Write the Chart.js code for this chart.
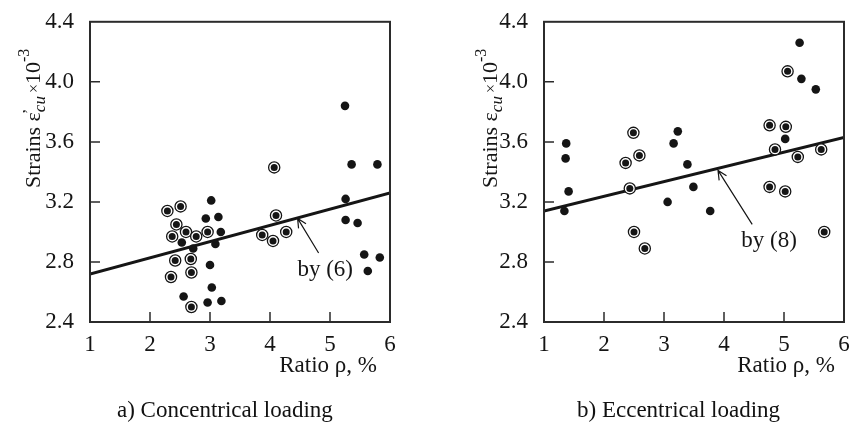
<!DOCTYPE html>
<html>
<head>
<meta charset="utf-8">
<script src="https://cdn.jsdelivr.net/npm/chart.js@4.4.1/dist/chart.umd.min.js"></script>
<style>
  body { margin: 0; background: #fff; width: 851px; height: 423px; overflow: hidden; position: relative; }
  canvas { position: absolute; top: 0; }
  #chartA { left: 0; }
  #chartB { left: 425px; }
  .cap { position: absolute; top: 398px; font: 23px/23px "Liberation Serif", serif; color: #111; white-space: nowrap; }
</style>
</head>
<body>
<canvas id="chartA" width="425" height="423"></canvas>
<canvas id="chartB" width="426" height="423"></canvas>
<div class="cap" style="left:117px">a) Concentrical loading</div>
<div class="cap" style="left:577px">b) Eccentrical loading</div>
<script>
const xTicks = [1, 2, 3, 4, 5, 6];
const yTicks = [2.4, 2.8, 3.2, 3.6, 4.0, 4.4];

// a) concentrical loading
const concSolidX = [5.25, 5.36, 5.79, 5.26, 5.26, 5.46, 5.57, 5.83, 5.63, 3.02, 2.93, 3.14, 3.18, 3.09, 2.53, 2.72, 3.00, 3.03, 2.56, 2.96, 3.19];
const concSolidY = [3.84, 3.45, 3.45, 3.22, 3.08, 3.06, 2.85, 2.83, 2.74, 3.21, 3.09, 3.10, 3.00, 2.92, 2.93, 2.89, 2.78, 2.63, 2.57, 2.53, 2.54];
const concRingX = [4.07, 2.29, 2.51, 2.44, 2.37, 2.60, 2.77, 2.96, 2.42, 2.68, 2.69, 2.35, 2.69, 4.10, 3.87, 4.05, 4.27];
const concRingY = [3.43, 3.14, 3.17, 3.05, 2.97, 3.00, 2.97, 3.00, 2.81, 2.82, 2.73, 2.70, 2.50, 3.11, 2.98, 2.94, 3.00];
const concFitX = [1, 6];
const concFitY = [2.72, 3.26];

// b) eccentrical loading
const eccSolidX = [5.26, 5.29, 5.53, 1.37, 1.36, 1.41, 1.34, 3.23, 3.16, 3.39, 3.49, 3.06, 3.77, 5.02];
const eccSolidY = [4.26, 4.02, 3.95, 3.59, 3.49, 3.27, 3.14, 3.67, 3.59, 3.45, 3.30, 3.20, 3.14, 3.62];
const eccRingX = [5.06, 2.49, 2.36, 2.59, 2.43, 2.50, 2.68, 4.76, 5.03, 4.85, 5.23, 5.62, 4.76, 5.02, 5.67];
const eccRingY = [4.07, 3.66, 3.46, 3.51, 3.29, 3.00, 2.89, 3.71, 3.70, 3.55, 3.50, 3.55, 3.30, 3.27, 3.00];
const eccFitX = [1, 6];
const eccFitY = [3.14, 3.63];

const SERIF = '"Liberation Serif", "Times New Roman", serif';
const INK = "#151515";
Chart.defaults.font.family = SERIF;
Chart.defaults.color = INK;

function pts(xs, ys) {
    return xs.map((x, i) => ({ x: x, y: ys[i] }));
}

// frame, inward ticks, axis titles and the "by (n)" arrow
const decorPlugin = {
    id: "decor",
    afterDraw(chart, args, opts) {
        const ctx = chart.ctx;
        const area = chart.chartArea;
        const xs = chart.scales.x;
        const ys = chart.scales.y;
        ctx.save();
        ctx.strokeStyle = "#2b2b2b";
        ctx.lineWidth = 2;
        ctx.strokeRect(area.left, area.top, area.right - area.left, area.bottom - area.top);

        ctx.lineWidth = 1.5;
        ctx.beginPath();
        xTicks.slice(1, -1).forEach((v) => {
            const px = xs.getPixelForValue(v);
            ctx.moveTo(px, area.bottom);
            ctx.lineTo(px, area.bottom - 10);
        });
        yTicks.slice(1, -1).forEach((v) => {
            const py = ys.getPixelForValue(v);
            ctx.moveTo(area.left, py);
            ctx.lineTo(area.left + 10, py);
        });
        ctx.stroke();

        // arrow to the fitted line
        const a = opts.arrow;
        const tx = xs.getPixelForValue(a.tip[0]), ty = ys.getPixelForValue(a.tip[1]);
        const fx = xs.getPixelForValue(a.tail[0]), fy = ys.getPixelForValue(a.tail[1]);
        const ang = Math.atan2(ty - fy, tx - fx);
        ctx.strokeStyle = INK;
        ctx.lineWidth = 1.2;
        ctx.beginPath();
        ctx.moveTo(fx, fy);
        ctx.lineTo(tx, ty);
        ctx.moveTo(tx - 10 * Math.cos(ang - 0.45), ty - 10 * Math.sin(ang - 0.45));
        ctx.lineTo(tx, ty);
        ctx.lineTo(tx - 10 * Math.cos(ang + 0.45), ty - 10 * Math.sin(ang + 0.45));
        ctx.stroke();

        ctx.fillStyle = INK;
        ctx.font = "23px " + SERIF;
        ctx.textAlign = "center";
        ctx.textBaseline = "middle";
        ctx.fillText(a.label, xs.getPixelForValue(a.at[0]), ys.getPixelForValue(a.at[1]));

        // x title
        ctx.textAlign = "right";
        ctx.fillText("Ratio \u03c1, %", opts.xTitleRight, 366);

        // y title, rotated, with subscript and superscript
        ctx.translate(opts.yTitleX, 188);
        ctx.rotate(-Math.PI / 2);
        ctx.textAlign = "left";
        ctx.textBaseline = "alphabetic";
        let cx = 0;
        ctx.font = "22px " + SERIF;
        ctx.fillText("Strains \u03b5", cx, 0);
        cx += ctx.measureText("Strains \u03b5").width;
        if (opts.prime) {
            ctx.font = "17px " + SERIF;
            ctx.fillText("\u2019", cx - 2, -6);
        }
        ctx.font = "italic 17px " + SERIF;
        ctx.fillText("cu", cx, 5);
        cx += ctx.measureText("cu").width + 3;
        ctx.font = "16px " + SERIF;
        ctx.fillText("\u00d7", cx, -1);
        cx += ctx.measureText("\u00d7").width;
        ctx.font = "22px " + SERIF;
        ctx.fillText("10", cx, 0);
        cx += ctx.measureText("10").width;
        ctx.font = "16px " + SERIF;
        ctx.fillText("-3", cx, -11);
        ctx.restore();
    },
};

function makeChart(id, solid, ring, fit, yAxisW, padRight, decor) {
    return new Chart(document.getElementById(id), {
        type: "scatter",
        data: {
            datasets: [
                {
                    data: solid,
                    pointRadius: 4.3,
                    pointBackgroundColor: INK,
                    pointBorderWidth: 0,
                    order: 0,
                },
                {
                    // inner dot of the ringed markers
                    data: ring,
                    pointRadius: 3.5,
                    pointBackgroundColor: INK,
                    pointBorderWidth: 0,
                    order: 0,
                },
                {
                    data: ring,
                    pointRadius: 5.6,
                    pointBackgroundColor: "#fff",
                    pointBorderColor: INK,
                    pointBorderWidth: 1.3,
                    order: 1,
                },
                {
                    type: "line",
                    data: fit,
                    borderColor: INK,
                    borderWidth: 3,
                    pointRadius: 0,
                    showLine: true,
                    order: 2,
                },
            ],
        },
        options: {
            responsive: false,
            animation: false,
            events: [],
            layout: { padding: { top: 17, right: padRight, bottom: 0, left: 0 } },
            plugins: {
                legend: { display: false },
                tooltip: { enabled: false },
                decor: decor,
            },
            scales: {
                x: {
                    type: "linear",
                    min: 1,
                    max: 6,
                    grid: { display: false },
                    border: { display: false },
                    afterBuildTicks: (s) => { s.ticks = xTicks.map((v) => ({ value: v })); },
                    afterFit: (s) => { s.height = 101; },
                    ticks: { padding: 1, font: { size: 23 }, color: INK, maxRotation: 0 },
                },
                y: {
                    min: 2.4,
                    max: 4.4,
                    grid: { display: false },
                    border: { display: false },
                    afterBuildTicks: (s) => { s.ticks = yTicks.map((v) => ({ value: v })); },
                    afterFit: (s) => { s.width = yAxisW; },
                    ticks: { padding: 8, font: { size: 23 }, color: INK, callback: (v) => v.toFixed(1) },
                },
            },
        },
        plugins: [decorPlugin],
    });
}

makeChart("chartA", pts(concSolidX, concSolidY), pts(concRingX, concRingY), pts(concFitX, concFitY), 90, 35, {
    prime: true,
    yTitleX: 40,
    xTitleRight: 377,
    arrow: { tip: [4.46, 3.09], tail: [4.81, 2.86], at: [4.92, 2.75], label: "by (6)" },
});

makeChart("chartB", pts(eccSolidX, eccSolidY), pts(eccRingX, eccRingY), pts(eccFitX, eccFitY), 119, 7, {
    prime: false,
    yTitleX: 72,
    xTitleRight: 410,
    arrow: { tip: [3.90, 3.41], tail: [4.47, 3.05], at: [4.75, 2.94], label: "by (8)" },
});
</script>
</body>
</html>
